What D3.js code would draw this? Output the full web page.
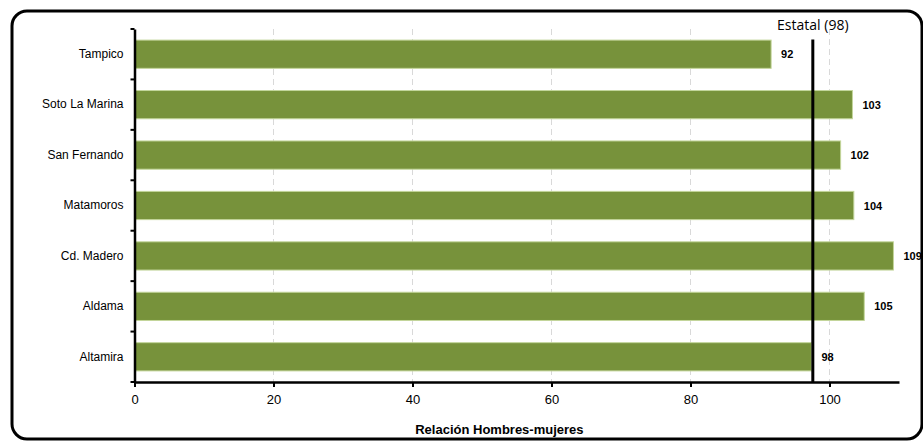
<!DOCTYPE html>
<head>
  <meta charset="utf-8">
  <title>Relación Hombres-mujeres</title>
  <script src="https://d3js.org/d3.v7.min.js"></script>
  <style>
    body { margin: 0; background: #fff; }
    text { font-family: "Liberation Sans", Arial, sans-serif; }
  </style>
</head>
<body>
  <div id="chart"></div>
  <script>
    // Daten
    var municipios = ['Tampico', 'Soto La Marina', 'San Fernando', 'Matamoros', 'Cd. Madero', 'Aldama', 'Altamira'];
    var valores = [91.6, 103.3, 101.6, 103.5, 109.2, 105.0, 97.4];
    var etiquetas = ['92', '103', '102', '104', '109', '105', '98'];
    var estatal = 97.6;
    var estatalTexto = 'Estatal (98)';
    var xTicks = [0, 20, 40, 60, 80, 100];

    var W = 923, H = 442;
    var margin = { top: 29, right: 24, bottom: 60, left: 134.5 };
    var width = W - margin.left - margin.right;
    var height = H - margin.top - margin.bottom;

    var svg = d3.select('#chart').append('svg')
      .attr('width', W).attr('height', H);

    // Rahmen
    svg.append('rect')
      .attr('x', 12).attr('y', 11)
      .attr('width', 910).attr('height', 428)
      .attr('rx', 15).attr('ry', 15)
      .attr('fill', 'none').attr('stroke', '#000').attr('stroke-width', 3);

    var g = svg.append('g')
      .attr('transform', 'translate(' + margin.left + ',' + margin.top + ')');

    var x = d3.scaleLinear().domain([0, 110]).range([0, width]);
    var y = d3.scaleBand().domain(municipios).range([0, height])
      .paddingInner(0.44).paddingOuter(0.22);

    // Gitterlinien
    g.selectAll('.grid').data(xTicks.slice(1)).enter().append('line')
      .attr('x1', function (d) { return x(d); })
      .attr('x2', function (d) { return x(d); })
      .attr('y1', 0).attr('y2', height)
      .attr('stroke', '#d9d9d9').attr('stroke-width', 1)
      .attr('stroke-dasharray', '6,4');

    // Balken
    g.selectAll('.bar').data(municipios).enter().append('rect')
      .attr('x', 0)
      .attr('y', function (d) { return y(d); })
      .attr('width', function (d, i) { return x(valores[i]); })
      .attr('height', y.bandwidth())
      .attr('fill', '#77923b')
      .attr('stroke', '#c3d69b').attr('stroke-width', 1);

    // Werte
    g.selectAll('.val').data(municipios).enter().append('text')
      .attr('x', function (d, i) { return x(valores[i]) + 10; })
      .attr('y', function (d) { return y(d) + y.bandwidth() / 2 + 4; })
      .attr('font-size', 11).attr('font-weight', 'bold')
      .text(function (d, i) { return etiquetas[i]; });

    // Estatal-Linie
    g.append('line')
      .attr('x1', x(estatal)).attr('x2', x(estatal))
      .attr('y1', y(municipios[0]) - 0.5).attr('y2', height)
      .attr('stroke', '#000').attr('stroke-width', 3);
    g.append('text')
      .attr('x', x(estatal)).attr('y', 1)
      .attr('text-anchor', 'middle')
      .attr('font-size', 14)
      .style('font-family', '"Open Sans", sans-serif')
      .text(estatalTexto);

    // x-Achse
    var xAxis = g.append('g')
      .attr('transform', 'translate(0,' + height + ')')
      .call(d3.axisBottom(x).tickValues(xTicks).tickSize(5).tickSizeOuter(0));
    xAxis.select('.domain').attr('stroke-width', 2.5);
    xAxis.selectAll('.tick line').attr('stroke-width', 2);
    xAxis.selectAll('.tick text')
      .attr('font-size', 13).attr('dy', '1.1em')
      .style('font-family', '"Liberation Sans", Arial, sans-serif');

    // y-Achse
    var yAxis = g.append('g').call(d3.axisLeft(y).tickSize(0));
    yAxis.select('.domain').attr('stroke-width', 2.5);
    yAxis.selectAll('.tick text')
      .attr('x', -11).attr('font-size', 12)
      .style('font-family', '"Liberation Sans", Arial, sans-serif');
    // Markierungen zwischen den Kategorien
    var grenzen = d3.range(municipios.length + 1).map(function (i) { return i * height / municipios.length; });
    g.selectAll('.ytick').data(grenzen).enter().append('line')
      .attr('x1', -4).attr('x2', 0)
      .attr('y1', function (d) { return d; }).attr('y2', function (d) { return d; })
      .attr('stroke', '#000').attr('stroke-width', 2);

    // Achsentitel
    g.append('text')
      .attr('x', x(52.5)).attr('y', height + 52)
      .attr('text-anchor', 'middle')
      .attr('font-size', 13).attr('font-weight', 'bold')
      .text('Relación Hombres-mujeres');
  </script>
</body>
